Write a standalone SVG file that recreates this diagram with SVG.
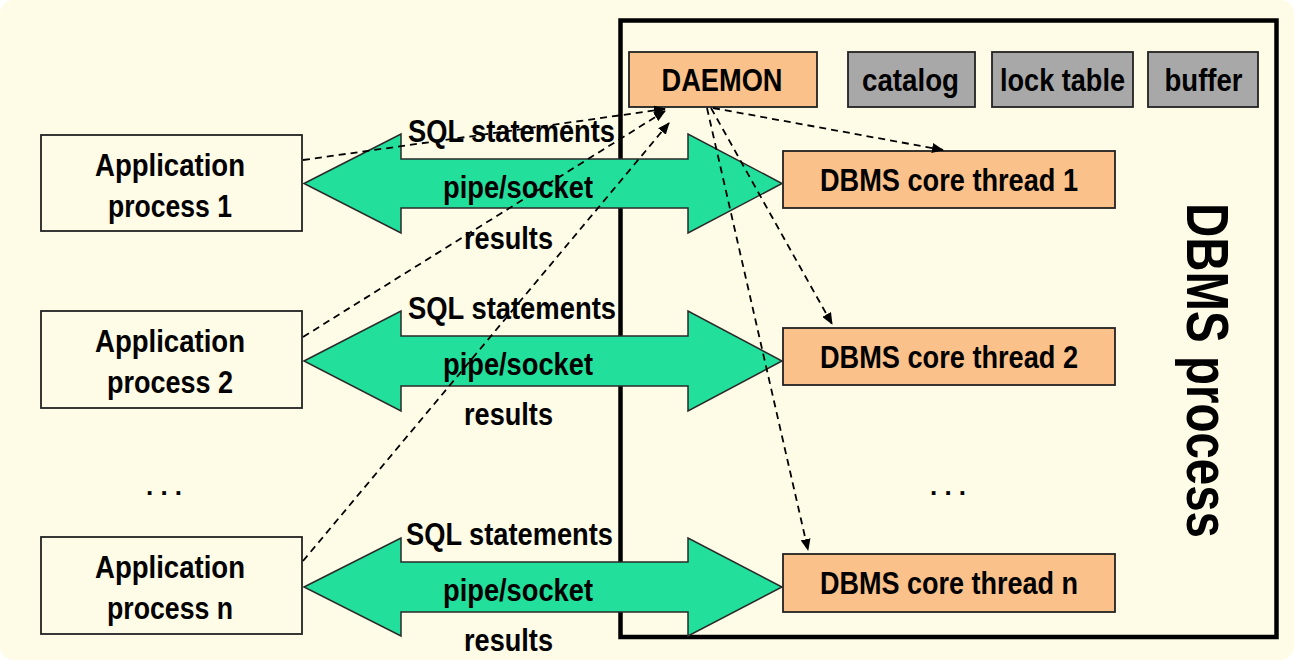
<svg xmlns="http://www.w3.org/2000/svg" width="1294" height="660" viewBox="0 0 1294 660">
<defs>
<style>
.t{font-family:"Liberation Sans",Arial,Helvetica,sans-serif;font-weight:bold;fill:#000;text-anchor:middle;}
.f30{font-size:31px;}
.app{fill:#FEFBE6;stroke:#222;stroke-width:1.8;}
.org{fill:#FBC18A;stroke:#222;stroke-width:1.8;}
.gry{fill:#A8A8A8;stroke:#222;stroke-width:1.8;}
.pipe{fill:#22E09C;stroke:#2a2a2a;stroke-width:1.5;stroke-linejoin:miter;}
.dash{fill:none;stroke:#000;stroke-width:1.8;stroke-dasharray:7 5;marker-end:url(#ah);}
</style>
<marker id="ah" viewBox="0 0 12 10" refX="11" refY="5" markerWidth="12" markerHeight="10" markerUnits="userSpaceOnUse" orient="auto">
<path d="M0,0 L12,5 L0,10 z" fill="#000"/>
</marker>
</defs>
<rect x="0" y="0" width="1294" height="660" fill="#ffffff"/>
<rect x="0" y="0" width="1294" height="660" rx="14" fill="#FEFBE6"/>

<g id="dbms-process">
<rect x="620.5" y="20.5" width="656" height="616.5" fill="none" stroke="#000" stroke-width="4.5"/>
<text class="t" font-size="60" transform="translate(1187,370.5) rotate(90)" textLength="335" lengthAdjust="spacingAndGlyphs">DBMS process</text>
</g>

<g id="daemon">
<rect class="org" x="629" y="52" width="188" height="55"/>
<text class="t f30" x="722" y="91" textLength="121" lengthAdjust="spacingAndGlyphs">DAEMON</text>
</g>
<g id="catalog">
<rect class="gry" x="848" y="52" width="127" height="55"/>
<text class="t f30" x="910.5" y="91" textLength="97" lengthAdjust="spacingAndGlyphs">catalog</text>
</g>
<g id="lock-table">
<rect class="gry" x="992" y="52" width="141" height="55"/>
<text class="t f30" x="1062.5" y="91" textLength="125" lengthAdjust="spacingAndGlyphs">lock table</text>
</g>
<g id="buffer">
<rect class="gry" x="1148" y="52" width="110" height="55"/>
<text class="t f30" x="1203.5" y="91" textLength="78" lengthAdjust="spacingAndGlyphs">buffer</text>
</g>

<g id="app1">
<rect class="app" x="41" y="135" width="261" height="96"/>
<text class="t f30" x="170" y="176" textLength="150" lengthAdjust="spacingAndGlyphs">Application</text>
<text class="t f30" x="170" y="217" textLength="124" lengthAdjust="spacingAndGlyphs">process 1</text>
</g>
<g id="app2">
<rect class="app" x="41" y="311" width="261" height="97"/>
<text class="t f30" x="170" y="352" textLength="150" lengthAdjust="spacingAndGlyphs">Application</text>
<text class="t f30" x="170" y="393" textLength="126" lengthAdjust="spacingAndGlyphs">process 2</text>
</g>
<g id="dots-left">
<text class="t" font-size="26" x="164" y="495">. . .</text>
</g>
<g id="appn">
<rect class="app" x="41" y="537" width="261" height="97"/>
<text class="t f30" x="170" y="578" textLength="150" lengthAdjust="spacingAndGlyphs">Application</text>
<text class="t f30" x="170" y="619" textLength="126" lengthAdjust="spacingAndGlyphs">process n</text>
</g>

<g id="thread1">
<rect class="org" x="783" y="151" width="332" height="57"/>
<text class="t f30" x="949" y="191" textLength="258" lengthAdjust="spacingAndGlyphs">DBMS core thread 1</text>
</g>
<g id="thread2">
<rect class="org" x="783" y="328" width="332" height="57"/>
<text class="t f30" x="949" y="368" textLength="258" lengthAdjust="spacingAndGlyphs">DBMS core thread 2</text>
</g>
<g id="dots-right">
<text class="t" font-size="26" x="948" y="495">. . .</text>
</g>
<g id="threadn">
<rect class="org" x="783" y="554" width="332" height="58"/>
<text class="t f30" x="949" y="594" textLength="258" lengthAdjust="spacingAndGlyphs">DBMS core thread n</text>
</g>

<g id="pipes">
<path class="pipe" d="M304,183.5 L401,134 L401,159 L688,159 L688,134 L782,183.5 L688,233 L688,208 L401,208 L401,233 Z"/>
<path class="pipe" d="M304,361 L401,311 L401,336 L688,336 L688,311 L782,361 L688,411 L688,386 L401,386 L401,411 Z"/>
<path class="pipe" d="M304,587 L401,538 L401,562 L688,562 L688,538 L782,587 L688,636 L688,612 L401,612 L401,636 Z"/>
</g>

<g id="connectors">
<path class="dash" d="M303,160 L665,109"/>
<path class="dash" d="M303,337 L665,111"/>
<path class="dash" d="M303,561 L669,123"/>
<path class="dash" d="M713,108 L943,150"/>
<path class="dash" d="M711,108 L832,324"/>
<path class="dash" d="M707,108 L808,550"/>
</g>

<g id="pipe-labels">
<text class="t f30" x="511.5" y="142" textLength="207" lengthAdjust="spacingAndGlyphs">SQL statements</text>
<text class="t f30" x="518" y="198" textLength="150" lengthAdjust="spacingAndGlyphs">pipe/socket</text>
<text class="t f30" x="508.5" y="249" textLength="89" lengthAdjust="spacingAndGlyphs">results</text>
<text class="t f30" x="512" y="319" textLength="208" lengthAdjust="spacingAndGlyphs">SQL statements</text>
<text class="t f30" x="518" y="375" textLength="150" lengthAdjust="spacingAndGlyphs">pipe/socket</text>
<text class="t f30" x="508.5" y="425" textLength="89" lengthAdjust="spacingAndGlyphs">results</text>
<text class="t f30" x="509.5" y="545" textLength="207" lengthAdjust="spacingAndGlyphs">SQL statements</text>
<text class="t f30" x="518" y="601" textLength="150" lengthAdjust="spacingAndGlyphs">pipe/socket</text>
<text class="t f30" x="508.5" y="651" textLength="89" lengthAdjust="spacingAndGlyphs">results</text>
</g>
</svg>
